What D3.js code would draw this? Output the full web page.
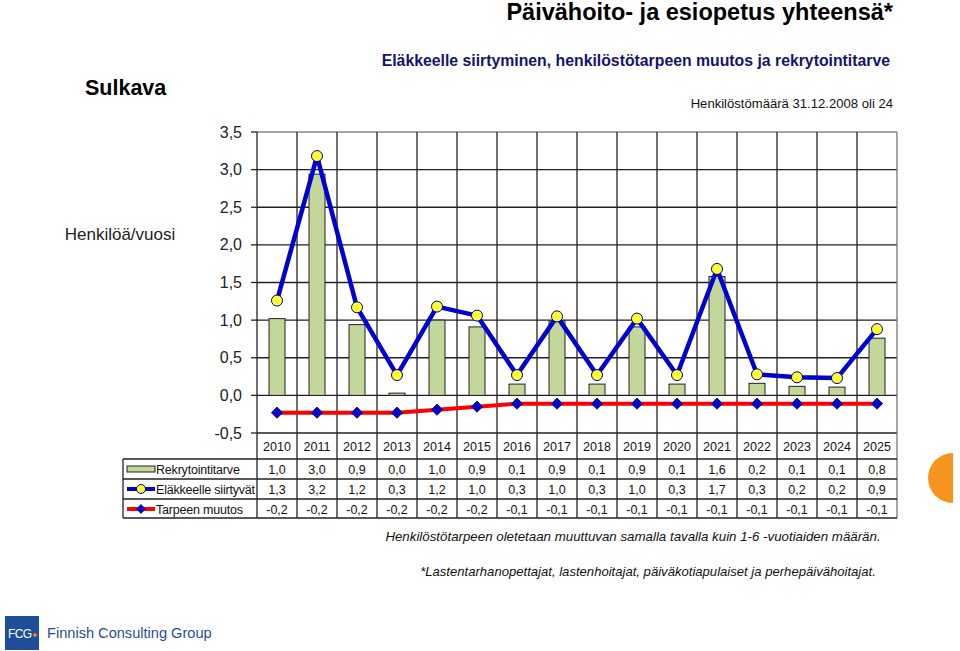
<!DOCTYPE html>
<html><head><meta charset="utf-8">
<script src="https://cdn.jsdelivr.net/npm/d3@7"></script>
<style>body{margin:0;background:#fff}svg{display:block;font-family:Arial,"Liberation Sans",sans-serif}</style>
</head><body>
<script>
const years = ["2010","2011","2012","2013","2014","2015","2016","2017","2018","2019","2020","2021","2022","2023","2024","2025"];
const rekrytointitarve = [1.02, 2.94, 0.94, 0.03, 1.0, 0.91, 0.15, 0.99, 0.15, 0.91, 0.15, 1.58, 0.16, 0.12, 0.11, 0.76];
const elakkeelle = [1.26, 3.18, 1.17, 0.27, 1.18, 1.06, 0.27, 1.05, 0.27, 1.02, 0.27, 1.68, 0.28, 0.24, 0.23, 0.88];
const tarpeenMuutos = [-0.23, -0.23, -0.23, -0.23, -0.19, -0.15, -0.11, -0.11, -0.11, -0.11, -0.11, -0.11, -0.11, -0.11, -0.11, -0.11];
const rekryLabels = ["1,0","3,0","0,9","0,0","1,0","0,9","0,1","0,9","0,1","0,9","0,1","1,6","0,2","0,1","0,1","0,8"];
const elakLabels = ["1,3","3,2","1,2","0,3","1,2","1,0","0,3","1,0","0,3","1,0","0,3","1,7","0,3","0,2","0,2","0,9"];
const muutosLabels = ["-0,2","-0,2","-0,2","-0,2","-0,2","-0,2","-0,1","-0,1","-0,1","-0,1","-0,1","-0,1","-0,1","-0,1","-0,1","-0,1"];
const yTicks = [-0.5, 0, 0.5, 1, 1.5, 2, 2.5, 3, 3.5];
const seriesNames = ["Rekrytointitarve", "Eläkkeelle siirtyvät", "Tarpeen muutos"];

(function () {
const W = 960, H = 651;
const svg = d3.select("body").append("svg").attr("width", W).attr("height", H);

const pLeft = 257, pRight = 897, pTop = 132, pBottom = 433;
const x = d3.scaleBand().domain(years).range([pLeft, pRight]);
const y = d3.scaleLinear().domain([-0.5, 3.5]).range([pBottom, pTop]);
const fmt = v => d3.format(".1f")(v).replace(".", ",").replace("\u2212", "-");

// Titles
svg.append("text").attr("x", 893).attr("y", 20).attr("text-anchor", "end")
  .attr("font-size", 23.5).attr("font-weight", "bold").attr("fill", "#000").text("Päivähoito- ja esiopetus yhteensä*");
svg.append("text").attr("x", 85).attr("y", 95).attr("font-size", 21.5).attr("font-weight", "bold").text("Sulkava");
svg.append("text").attr("x", 890).attr("y", 66).attr("text-anchor", "end")
  .attr("font-size", 15.8).attr("font-weight", "bold").attr("fill", "#14146e")
  .text("Eläkkeelle siirtyminen, henkilöstötarpeen muutos ja rekrytointitarve");
svg.append("text").attr("x", 893).attr("y", 108).attr("text-anchor", "end")
  .attr("font-size", 13.1).attr("fill", "#111").text("Henkilöstömäärä 31.12.2008 oli 24");
svg.append("text").attr("x", 120).attr("y", 240).attr("text-anchor", "middle")
  .attr("font-size", 17).attr("fill", "#222").text("Henkilöä/vuosi");

// Table geometry
const rowTops = [459, 479, 499];
const tableBottom = 518;

// Horizontal grid
svg.append("g").selectAll("line").data(yTicks).join("line")
  .attr("x1", pLeft).attr("x2", pRight).attr("y1", d => y(d)).attr("y2", d => y(d))
  .attr("stroke", d => d === 3.5 ? "#888" : "#222").attr("stroke-width", 1.3);
// Y tick marks
svg.append("g").selectAll("line").data(yTicks).join("line")
  .attr("x1", pLeft - 6).attr("x2", pLeft).attr("y1", d => y(d)).attr("y2", d => y(d))
  .attr("stroke", "#222").attr("stroke-width", 1.3);
// Y tick labels
svg.append("g").selectAll("text").data(yTicks).join("text")
  .attr("x", 242).attr("y", d => y(d) + 5.5).attr("text-anchor", "end")
  .attr("font-size", 16).attr("fill", "#222").text(fmt);

// Vertical grid (category boundaries, through table)
const bounds = years.map(d => x(d)).concat([pRight]);
svg.append("g").selectAll("line").data(bounds).join("line")
  .attr("x1", d => d).attr("x2", d => d).attr("y1", pTop).attr("y2", tableBottom)
  .attr("stroke", (d, i) => i === bounds.length - 1 ? "#777" : "#222").attr("stroke-width", 1.3);

// Table horizontal lines
svg.append("g").selectAll("line").data(rowTops.concat([tableBottom])).join("line")
  .attr("x1", 123).attr("x2", pRight).attr("y1", d => d).attr("y2", d => d)
  .attr("stroke", "#222").attr("stroke-width", 1.3);
svg.append("line").attr("x1", 123).attr("x2", 123).attr("y1", rowTops[0]).attr("y2", tableBottom)
  .attr("stroke", "#222").attr("stroke-width", 1.3);

// Year header
svg.append("g").selectAll("text").data(years).join("text")
  .attr("x", d => x(d) + x.bandwidth() / 2).attr("y", 451).attr("text-anchor", "middle")
  .attr("font-size", 12.5).attr("fill", "#111").text(d => d);

// Table values
const rows = [rekryLabels, elakLabels, muutosLabels];
rows.forEach((arr, r) => {
  svg.append("g").selectAll("text").data(arr).join("text")
    .attr("x", (d, i) => x(years[i]) + x.bandwidth() / 2).attr("y", rowTops[r] + 14.5)
    .attr("text-anchor", "middle").attr("font-size", 12.5).attr("fill", "#111").text(d => d);
});

// Legend cells
const lg = svg.append("g");
seriesNames.forEach((name, r) => {
  const cy = rowTops[r] + 10;
  lg.append("text").attr("x", 156).attr("y", cy + 4.5).attr("font-size", 12.5).attr("fill", "#111")
    .attr("letter-spacing", -0.2).text(name);
});
lg.append("rect").attr("x", 127).attr("y", rowTops[0] + 7).attr("width", 28).attr("height", 6)
  .attr("fill", "#c4d79b").attr("stroke", "#222").attr("stroke-width", 1);
lg.append("line").attr("x1", 127).attr("x2", 155).attr("y1", rowTops[1] + 10).attr("y2", rowTops[1] + 10)
  .attr("stroke", "#0000d0").attr("stroke-width", 4);
lg.append("circle").attr("cx", 141).attr("cy", rowTops[1] + 10).attr("r", 4.5)
  .attr("fill", "#ffff33").attr("stroke", "#000080").attr("stroke-width", 1);
lg.append("line").attr("x1", 127).attr("x2", 155).attr("y1", rowTops[2] + 10).attr("y2", rowTops[2] + 10)
  .attr("stroke", "#ff0000").attr("stroke-width", 4);
lg.append("path").attr("d", d3.symbol(d3.symbolDiamond2, 50)())
  .attr("transform", `translate(141,${rowTops[2] + 10})`)
  .attr("fill", "#0000d0").attr("stroke", "#000060").attr("stroke-width", 0.8);

// Bars
const bw = 16;
svg.append("g").selectAll("rect").data(rekrytointitarve).join("rect")
  .attr("x", (d, i) => x(years[i]) + x.bandwidth() / 2 - bw / 2)
  .attr("y", d => y(Math.max(d, 0)))
  .attr("width", bw).attr("height", d => Math.abs(y(d) - y(0)))
  .attr("fill", "#c4d79b").attr("stroke", "#222").attr("stroke-width", 1);

// Lines
const line = d3.line().x((d, i) => x(years[i]) + x.bandwidth() / 2).y(d => y(d));
svg.append("path").datum(tarpeenMuutos).attr("d", line).attr("fill", "none")
  .attr("stroke", "#ff0000").attr("stroke-width", 4).attr("stroke-linejoin", "round");
svg.append("g").selectAll("path").data(tarpeenMuutos).join("path")
  .attr("d", d3.symbol(d3.symbolDiamond2, 80)())
  .attr("transform", (d, i) => `translate(${x(years[i]) + x.bandwidth() / 2},${y(d)})`)
  .attr("fill", "#0000d0").attr("stroke", "#000060").attr("stroke-width", 0.8);

svg.append("path").datum(elakkeelle).attr("d", line).attr("fill", "none")
  .attr("stroke", "#0000d0").attr("stroke-width", 4.5).attr("stroke-linejoin", "round");
svg.append("g").selectAll("circle").data(elakkeelle).join("circle")
  .attr("cx", (d, i) => x(years[i]) + x.bandwidth() / 2).attr("cy", d => y(d)).attr("r", 5.5)
  .attr("fill", "#ffff33").attr("stroke", "#000080").attr("stroke-width", 1);

// Footnotes
svg.append("text").attr("x", 633).attr("y", 541).attr("text-anchor", "middle")
  .attr("font-size", 13.3).attr("font-style", "italic").attr("fill", "#111")
  .text("Henkilöstötarpeen oletetaan muuttuvan samalla tavalla kuin 1-6 -vuotiaiden määrän.");
svg.append("text").attr("x", 648).attr("y", 576).attr("text-anchor", "middle")
  .attr("font-size", 13.1).attr("font-style", "italic").attr("fill", "#111")
  .text("*Lastentarhanopettajat, lastenhoitajat, päiväkotiapulaiset ja perhepäivähoitajat.");

// Orange half circle decoration
svg.append("path").attr("d", d3.arc().innerRadius(0).outerRadius(25).startAngle(Math.PI).endAngle(2 * Math.PI)())
  .attr("transform", "translate(953,478)").attr("fill", "#f7941d");

// FCG logo
const logo = svg.append("g");
logo.append("rect").attr("x", 5).attr("y", 616).attr("width", 34).attr("height", 34).attr("fill", "#1f4e99");
logo.append("text").attr("x", 8).attr("y", 638).attr("font-size", 12).attr("fill", "#fff").attr("letter-spacing", -0.6).text("FCG");
logo.append("circle").attr("cx", 35).attr("cy", 635).attr("r", 1.8).attr("fill", "#f7941d");
logo.append("text").attr("x", 47).attr("y", 638).attr("font-size", 14.6).attr("fill", "#1f4e99").text("Finnish Consulting Group");
})();
</script>
</body></html>
